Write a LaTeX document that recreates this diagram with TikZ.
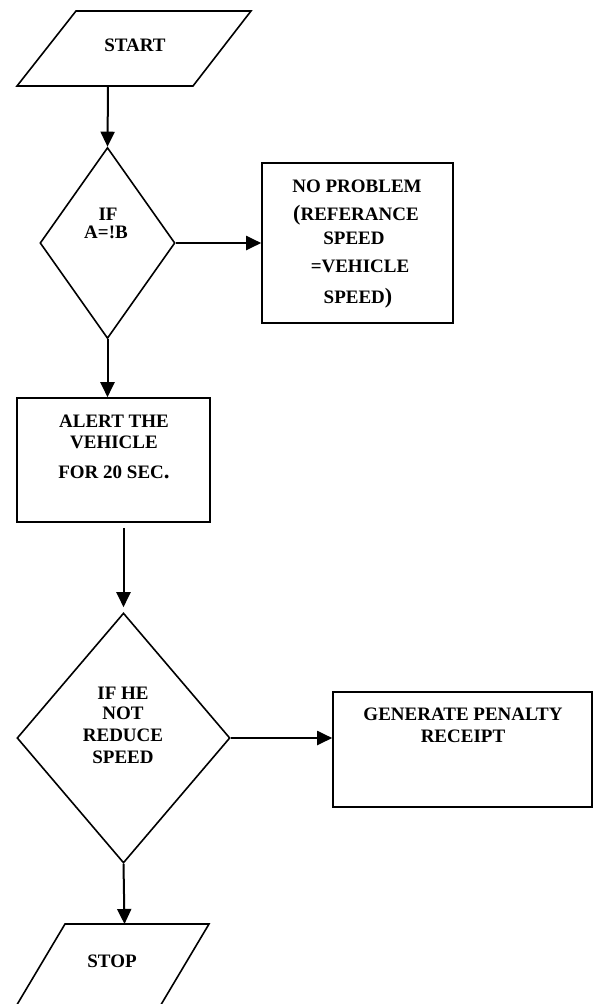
\documentclass[tikz,border=0pt]{standalone}
\usepackage{fontspec}
\setmainfont{Liberation Serif}
\usetikzlibrary{shapes.geometric,arrows.meta}
\tikzset{
  shp/.style={draw=black, line width=1.6pt},
  boxnode/.style={shp, rectangle, inner sep=0pt},
  dianode/.style={shp, diamond, inner sep=0pt},
  arr/.style={line width=2pt, -{Triangle[length=15pt,width=14pt]}},
  txt/.style={anchor=base, inner sep=0pt, font=\bfseries\fontsize{19}{22}\selectfont}
}
\begin{document}
\begin{tikzpicture}[x=1pt,y=-1pt]
\useasboundingbox (0,0) rectangle (593,1004);
% START parallelogram
\draw[shp] (76,11) -- (251,11) -- (193,86) -- (17,86) -- cycle;
\coordinate (startb) at (108,86);
\node[txt] (tstart) at (135,51) {START};
% decision 1
\node[dianode, minimum width=135pt, minimum height=191pt] (d1) at (107.5,243) {};
\node[txt] (d1a) at (108,220) {IF};
\node[txt] (d1b) at (106,238) {A=!B};
% no problem box
\node[boxnode, minimum width=191pt, minimum height=160pt] (b1) at (357.5,243) {};
\node[txt] (b1a) at (357,192) {NO PROBLEM};
\node[txt] (b1b) at (356,220) {{\fontsize{22}{22}\selectfont(}REFERANCE};
\node[txt] (b1c) at (354,244) {SPEED};
\node[txt] (b1d) at (360,272) {=VEHICLE};
\node[txt] (b1e) at (358,303) {SPEED{\fontsize{22}{22}\selectfont)}};
% alert box
\node[boxnode, minimum width=193pt, minimum height=124pt] (b2) at (113.5,460) {};
\node[txt] (b2a) at (114,427) {ALERT THE};
\node[txt] (b2b) at (114,448) {VEHICLE};
\node[txt] (b2c) at (114,478) {FOR 20 SEC{\fontsize{23}{22}\selectfont.}};
% decision 2
\node[dianode, minimum width=213pt, minimum height=250pt] (d2) at (123.5,738) {};
\node[txt] (d2a) at (123,699) {IF HE};
\node[txt] (d2b) at (123,719) {NOT};
\node[txt] (d2c) at (123,741) {REDUCE};
\node[txt] (d2d) at (123,763) {SPEED};
% penalty box
\node[boxnode, minimum width=259pt, minimum height=115pt] (b3) at (462.5,749.5) {};
\node[txt] (b3a) at (463,720) {GENERATE PENALTY};
\node[txt] (b3b) at (463,742) {RECEIPT};
% STOP parallelogram
\draw[shp] (16.2,1006) -- (65,924) -- (209,924) -- (160.2,1006);
\coordinate (stopt) at (124.5,924);
\node[txt] (tstop) at (112,967) {STOP};
% connectors
\draw[arr] (startb) -- (d1.north);
\draw[arr] (d1.east) -- (d1.east -| b1.west);
\draw[arr] (d1.south) -- (d1.south |- b2.north);
\draw[arr, shorten <=5pt, shorten >=5pt] (b2.south -| d2.north) -- (d2.north);
\draw[arr] (d2.east) -- (d2.east -| b3.west);
\draw[arr] (d2.south) -- (stopt);
\end{tikzpicture}
\end{document}
